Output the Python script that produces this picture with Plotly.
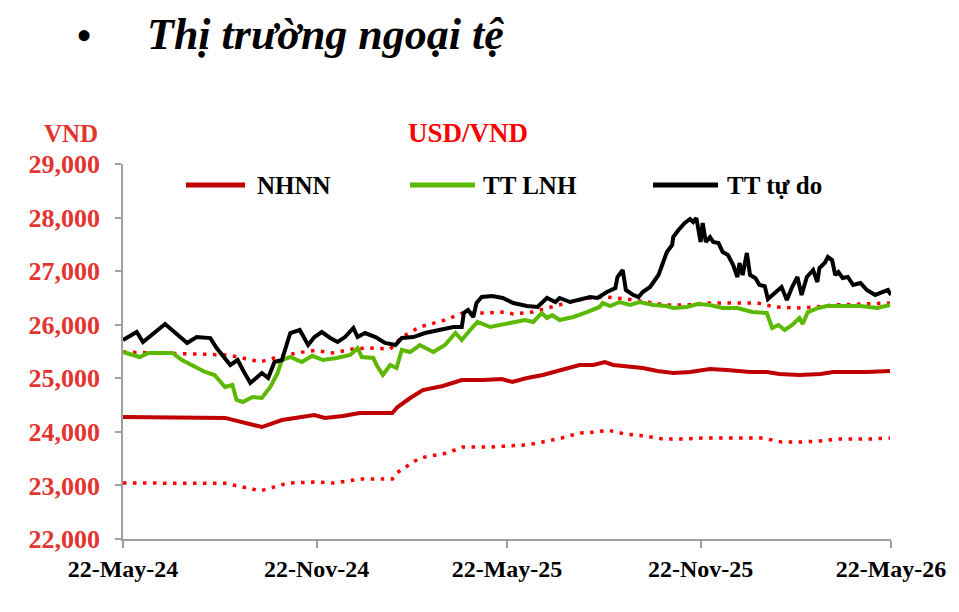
import plotly.graph_objects as go

# ---------------- data ----------------
free_dates = ["2024-05-22","2024-06-04","2024-06-10","2024-07-01","2024-07-22","2024-07-31","2024-08-13","2024-08-19",
              "2024-09-01","2024-09-08","2024-09-13","2024-09-20","2024-10-01","2024-10-07","2024-10-13","2024-10-20",
              "2024-10-28","2024-11-06","2024-11-14","2024-11-20","2024-11-27","2024-12-05","2024-12-12","2024-12-19",
              "2024-12-27","2024-12-31","2025-01-07","2025-01-17","2025-01-26","2025-02-05","2025-02-11","2025-02-22",
              "2025-03-05","2025-03-21","2025-04-01","2025-04-09","2025-04-11","2025-04-15","2025-04-20","2025-04-23",
              "2025-04-28","2025-05-08","2025-05-18","2025-05-28","2025-06-10","2025-06-20","2025-06-29","2025-07-07",
              "2025-07-11","2025-07-21","2025-07-30","2025-08-09","2025-08-16","2025-08-25","2025-09-02","2025-09-04",
              "2025-09-09","2025-09-12","2025-09-19","2025-09-24","2025-09-28",
              "2025-10-05","2025-10-13","2025-10-17","2025-10-21","2025-10-26","2025-10-27","2025-11-01","2025-11-07",
              "2025-11-12","2025-11-15","2025-11-18","2025-11-20","2025-11-22","2025-11-24","2025-11-27","2025-12-01",
              "2025-12-04","2025-12-09","2025-12-13","2025-12-18","2025-12-23","2025-12-27","2025-12-29","2026-01-01",
              "2026-01-05","2026-01-08","2026-01-13","2026-01-17","2026-01-22","2026-01-25","2026-02-01","2026-02-07",
              "2026-02-12","2026-02-17","2026-02-22","2026-02-26","2026-03-03","2026-03-09","2026-03-13","2026-03-15",
              "2026-03-20","2026-03-23","2026-03-27","2026-03-30","2026-04-02","2026-04-06","2026-04-11","2026-04-16",
              "2026-04-23","2026-04-29","2026-05-07","2026-05-13","2026-05-19","2026-05-22"]
free_rate = [25715,25864,25677,26013,25659,25770,25750,25565,
             25248,25341,25155,24912,25099,25005,25304,25341,
             25845,25901,25621,25770,25864,25752,25677,25770,
             25939,25770,25845,25770,25659,25621,25752,25770,
             25845,25901,25957,25957,26219,26275,26144,26405,
             26517,26536,26499,26405,26349,26331,26499,26424,
             26499,26424,26461,26517,26499,26611,26685,26891,
             27021,26648,26555,26517,26611,
             26704,26928,27171,27358,27488,27637,27768,27899,
             27973,27917,27992,27805,27544,27899,27544,27637,
             27544,27525,27358,27301,27115,26891,27152,26928,
             27339,26928,26872,26740,26720,26480,26592,26704,
             26461,26704,26891,26555,26891,27021,26797,27059,
             27152,27264,27208,26928,26984,26872,26891,26741,
             26779,26648,26555,26611,26648,26555]

inter_dates = ["2024-05-22","2024-06-07","2024-06-15","2024-07-08","2024-07-17","2024-07-29","2024-08-08","2024-08-17",
               "2024-08-27","2024-09-03","2024-09-07","2024-09-13","2024-09-22","2024-10-01","2024-10-09","2024-10-16",
               "2024-10-20","2024-10-28","2024-11-08","2024-11-18","2024-11-28","2024-12-11","2024-12-24","2024-12-31",
               "2025-01-04","2025-01-15","2025-01-18","2025-01-24","2025-01-31","2025-02-06","2025-02-11","2025-02-19",
               "2025-02-28","2025-03-13","2025-03-24","2025-04-03","2025-04-09","2025-04-17","2025-04-24","2025-05-06",
               "2025-05-17","2025-05-28","2025-06-08","2025-06-16","2025-06-24","2025-06-29","2025-07-04","2025-07-11",
               "2025-07-24","2025-08-06","2025-08-18","2025-08-21","2025-08-28","2025-09-06","2025-09-16","2025-09-25",
               "2025-10-08","2025-10-21","2025-10-27","2025-11-09","2025-11-19","2025-12-01","2025-12-13","2025-12-27",
               "2026-01-10","2026-01-24","2026-01-29","2026-02-04","2026-02-10","2026-02-17","2026-02-24","2026-02-27",
               "2026-03-04","2026-03-14","2026-03-22","2026-04-06","2026-04-23","2026-05-09","2026-05-21"]
inter_rate = [25490,25397,25472,25472,25341,25211,25117,25061,
              24837,24875,24595,24557,24651,24632,24837,25099,
              25341,25397,25304,25420,25341,25379,25435,25565,
              25397,25379,25248,25061,25248,25192,25528,25490,
              25621,25490,25621,25845,25715,25901,26051,25957,
              25995,26032,26088,26051,26219,26125,26181,26088,
              26144,26237,26331,26405,26349,26424,26368,26424,
              26368,26349,26312,26331,26387,26368,26312,26312,
              26237,26219,25939,25995,25901,25995,26125,26014,
              26237,26312,26349,26349,26349,26312,26368]

central_dates = ["2024-05-22","2024-08-27","2024-10-01","2024-10-20","2024-11-20","2024-11-30","2024-12-17","2025-01-02",
                 "2025-02-02","2025-02-07","2025-02-19","2025-03-03","2025-03-22","2025-04-09","2025-04-29","2025-05-17",
                 "2025-05-27","2025-06-10","2025-06-25","2025-07-05","2025-07-21","2025-07-30","2025-08-12","2025-08-23",
                 "2025-08-31","2025-09-19","2025-09-28","2025-10-12","2025-10-27","2025-11-12","2025-12-01","2025-12-17",
                 "2026-01-08","2026-01-24","2026-02-05","2026-02-24","2026-03-16","2026-03-28","2026-04-29","2026-05-21"]
central_rate = [24277,24260,24090,24221,24315,24259,24296,24352,
                24352,24464,24632,24781,24856,24968,24968,24987,
                24931,25005,25061,25117,25192,25248,25248,25304,
                25248,25211,25192,25136,25099,25117,25173,25155,
                25117,25117,25080,25061,25080,25117,25117,25136]

ceiling_dates = ["2024-05-22","2024-08-11","2024-08-30","2024-09-22","2024-09-29","2024-10-16","2024-11-03","2024-11-20",
                 "2024-12-08","2024-12-26","2025-01-12","2025-01-31","2025-02-11","2025-02-28","2025-03-24","2025-04-10",
                 "2025-05-03","2025-05-20","2025-05-28","2025-06-15","2025-07-02","2025-07-21","2025-08-07","2025-08-25",
                 "2025-09-13","2025-10-02","2025-10-21","2025-11-09","2025-11-28","2025-12-27","2026-01-15","2026-02-01",
                 "2026-02-20","2026-03-11","2026-03-28","2026-04-25","2026-05-21"]
ceiling_rate = [25490,25450,25435,25341,25304,25397,25472,25520,
                25472,25547,25565,25547,25770,25957,26088,26219,
                26219,26237,26200,26237,26331,26424,26499,26517,
                26480,26424,26368,26368,26405,26405,26405,26331,
                26312,26331,26368,26387,26405]

floor_dates = ["2024-05-22","2024-08-27","2024-09-22","2024-09-29","2024-10-26","2024-11-20","2024-12-08","2025-01-04",
               "2025-02-02","2025-02-06","2025-02-28","2025-03-26","2025-04-10","2025-05-06","2025-05-23","2025-06-10",
               "2025-06-25","2025-07-13","2025-07-30","2025-08-16","2025-08-25","2025-09-11","2025-09-30","2025-10-17",
               "2025-11-05","2025-11-24","2026-01-01","2026-01-20","2026-02-07","2026-02-26","2026-03-16","2026-04-03",
               "2026-05-02","2026-05-21"]
floor_rate = [23045,23040,22933,22896,23045,23064,23045,23120,
              23120,23232,23512,23605,23717,23717,23736,23755,
              23811,23885,23979,23997,24035,23960,23923,23867,
              23867,23885,23885,23885,23811,23811,23830,23867,
              23867,23885]

x_tick_vals = ["2024-05-22","2024-11-22","2025-05-22","2025-11-22","2026-05-22"]
x_tick_text = ["22-May-24","22-Nov-24","22-May-25","22-Nov-25","22-May-26"]
y_tick_vals = [22000,23000,24000,25000,26000,27000,28000,29000]

legend_names = ["NHNN","TT LNH","TT tự do"]

# ---------------- styling ----------------
SERIF = "Liberation Serif"
DARK_RED = "#c00000"
RED = "#ff0000"
GREEN = "#5cb800"
BLACK = "#000000"
TICK_RED = "#e3342f"

fig = go.Figure()
fig.add_trace(go.Scatter(x=floor_dates, y=floor_rate, mode="lines", name="Sàn",
                         line=dict(color=RED, width=3.5, dash="3.5px,6.5px"), showlegend=False))
fig.add_trace(go.Scatter(x=ceiling_dates, y=ceiling_rate, mode="lines", name="Trần",
                         line=dict(color=RED, width=3.5, dash="3.5px,6.5px"), showlegend=False))
fig.add_trace(go.Scatter(x=inter_dates, y=inter_rate, mode="lines", name=legend_names[1],
                         line=dict(color=GREEN, width=4), showlegend=False))
fig.add_trace(go.Scatter(x=central_dates, y=central_rate, mode="lines", name=legend_names[0],
                         line=dict(color=DARK_RED, width=4), showlegend=False))
fig.add_trace(go.Scatter(x=free_dates, y=free_rate, mode="lines", name=legend_names[2],
                         line=dict(color=BLACK, width=4), showlegend=False))

# page body has an 8px offset; plot area lands at x 123..891, y 164..539 on screen
fig.update_layout(
    width=959, height=612,
    margin=dict(l=115, r=76, t=156, b=81),
    paper_bgcolor="white", plot_bgcolor="white",
    font=dict(family=SERIF),
    showlegend=False,
)
fig.update_xaxes(
    type="date", range=["2024-05-22", "2026-05-22"],
    tickvals=x_tick_vals, ticktext=x_tick_text,
    showline=True, linecolor="#a0a0a0", linewidth=1.5,
    ticks="outside", ticklen=7, tickcolor="#a0a0a0", tickwidth=1.5,
    showgrid=False, zeroline=False,
    tickfont=dict(family=SERIF, size=24, color="black", weight="bold"),
)
fig.update_yaxes(
    range=[22000, 29000], tickvals=y_tick_vals, tickformat=",d",
    showline=True, linecolor="#a0a0a0", linewidth=1.5,
    ticks="outside", ticklen=6, tickcolor="#a0a0a0", tickwidth=1.5,
    ticklabelstandoff=10,
    showgrid=False, zeroline=False,
    tickfont=dict(family=SERIF, size=26, color=TICK_RED, weight="bold"),
)

def px_x(p):
    return (p - 123) / 768.0

def px_y(p):
    return (539 - p) / 375.0

# manual legend (lines + labels)
legend_items = [(186, 245, 255, DARK_RED), (410, 475, 481, GREEN), (653, 718, 725, BLACK)]
for (x0, x1, xt, col), name in zip(legend_items, legend_names):
    fig.add_shape(type="line", xref="paper", yref="paper",
                  x0=px_x(x0), x1=px_x(x1), y0=px_y(185), y1=px_y(185),
                  line=dict(color=col, width=5))
    fig.add_annotation(xref="paper", yref="paper", x=px_x(xt), y=px_y(185),
                       xanchor="left", yanchor="middle", text="<b>" + name + "</b>", showarrow=False,
                       font=dict(family=SERIF, size=25, color="black"))

# titles
fig.add_annotation(xref="paper", yref="paper", x=px_x(42), y=px_y(133), xanchor="left", yanchor="middle",
                   text="<b>VND</b>", showarrow=False,
                   font=dict(family=SERIF, size=25, color=TICK_RED))
fig.add_annotation(xref="paper", yref="paper", x=px_x(468), y=px_y(133), xanchor="center", yanchor="middle",
                   text="<b>USD/VND</b>", showarrow=False,
                   font=dict(family=SERIF, size=27, color=RED))
fig.add_annotation(xref="paper", yref="paper", x=px_x(84), y=px_y(9), xanchor="center", yanchor="top",
                   text="•", showarrow=False, borderpad=0,
                   font=dict(family=SERIF, size=46, color="black"))
fig.add_annotation(xref="paper", yref="paper", x=px_x(146), y=px_y(9), xanchor="left", yanchor="top",
                   text="<b><i>Thị trường ngoại tệ</i></b>", showarrow=False, borderpad=0,
                   font=dict(family=SERIF, size=44, color="black"))

fig.write_html("out.html")
